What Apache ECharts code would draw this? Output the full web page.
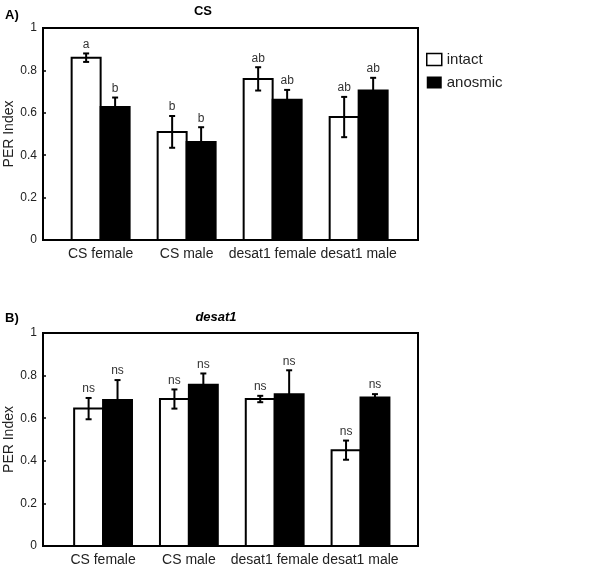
<!DOCTYPE html>
<html>
<head>
<meta charset="utf-8">
<script src="https://cdn.jsdelivr.net/npm/echarts@6/dist/echarts.min.js"></script>
<style>
  html, body { margin: 0; padding: 0; background: #fff; }
  #main { width: 592px; height: 572px; }
</style>
</head>
<body>
<div id="main"></div>
<script>
// 数据
var categories = ['CS female', 'CS male', 'desat1 female', 'desat1 male'];
var yTicks = [0, 0.2, 0.4, 0.6, 0.8, 1];

// A) CS
var csIntact = [0.86, 0.51, 0.76, 0.58];
var csIntactErr = [0.02, 0.075, 0.055, 0.095];
var csIntactLetters = ['a', 'b', 'ab', 'ab'];
var csAnosmic = [0.627, 0.462, 0.662, 0.705];
var csAnosmicErr = [0.045, 0.07, 0.046, 0.06];
var csAnosmicLetters = ['b', 'b', 'ab', 'ab'];

// B) desat1
var desIntact = [0.645, 0.69, 0.69, 0.45];
var desIntactErr = [0.05, 0.045, 0.015, 0.045];
var desIntactLetters = ['ns', 'ns', 'ns', 'ns'];
var desAnosmic = [0.686, 0.757, 0.712, 0.697];
var desAnosmicErr = [0.093, 0.053, 0.113, 0.016];
var desAnosmicLetters = ['ns', 'ns', 'ns', 'ns'];

(function () {
  var myChart = echarts.init(document.getElementById('main'));
  var font = 'Liberation Sans, Arial, sans-serif';
  var barUnit = 0.337; // 柱宽（x轴单位）

  function toData(vals, errs) {
    return categories.map(function (c, i) { return [i, vals[i], errs[i]]; });
  }

  // 柱子 + 误差线 + 字母标注
  function renderBars(offset, fill, letters) {
    return function (params, api) {
      var i = api.value(0), v = api.value(1), e = api.value(2);
      var w = api.size([barUnit, 0])[0];
      var base = api.coord([i + offset, 0]);
      var top = api.coord([i + offset, v]);
      var hi = api.coord([i + offset, v + e]);
      var lo = api.coord([i + offset, v - e]);
      var x = base[0];
      var ls = { stroke: '#000', lineWidth: 2 };
      return {
        type: 'group',
        children: [
          { type: 'rect', shape: { x: x - w / 2, y: top[1], width: w, height: base[1] - top[1] },
            style: { fill: fill, stroke: '#000', lineWidth: 2 } },
          { type: 'line', shape: { x1: x, y1: lo[1], x2: x, y2: hi[1] }, style: ls },
          { type: 'line', shape: { x1: x - 3, y1: hi[1], x2: x + 3, y2: hi[1] }, style: ls },
          { type: 'line', shape: { x1: x - 3, y1: lo[1], x2: x + 3, y2: lo[1] }, style: ls },
          { type: 'text', x: x, y: hi[1] - 3,
            style: { text: letters[params.dataIndex], fill: '#333', font: '12px ' + font,
                     textAlign: 'center', textVerticalAlign: 'bottom' } }
        ]
      };
    };
  }

  function xAxisFor(gridIndex, min, max) {
    return {
      type: 'value', gridIndex: gridIndex, min: min, max: max,
      axisLine: { show: false, onZero: false },
      axisTick: { show: false },
      splitLine: { show: false },
      axisLabel: {
        customValues: [0, 1, 2, 3],
        formatter: function (v) { return categories[Math.round(v)]; },
        color: '#222', fontSize: 14, fontFamily: font, margin: 7
      }
    };
  }

  function yAxisFor(gridIndex) {
    return {
      type: 'value', gridIndex: gridIndex, min: yTicks[0], max: yTicks[yTicks.length - 1], interval: 0.2,
      name: 'PER Index', nameLocation: 'middle', nameGap: 27, nameMoveOverlap: false,
      nameTextStyle: { color: '#222', fontSize: 14, fontFamily: font },
      axisLine: { show: false, onZero: false },
      axisTick: { show: true, inside: true, length: 3, lineStyle: { color: '#000', width: 1.5 } },
      splitLine: { show: false },
      axisLabel: { color: '#222', fontSize: 12, fontFamily: font, margin: 6 }
    };
  }

  function series(name, axisIdx, vals, errs, offset, fill, letters) {
    return {
      name: name, type: 'custom', xAxisIndex: axisIdx, yAxisIndex: axisIdx,
      itemStyle: { color: fill },
      renderItem: renderBars(offset, fill, letters),
      data: toData(vals, errs)
    };
  }

  var titleStyle = { fontSize: 13, fontWeight: 'bold', color: '#000', fontFamily: font };

  var option = {
    animation: false,
    backgroundColor: '#fff',
    title: [
      { text: 'A)', left: 5, top: 9, padding: 0, textStyle: titleStyle },
      { text: 'CS', left: 203, top: 5, padding: 0, textAlign: 'center', textStyle: titleStyle },
      { text: 'B)', left: 5, top: 312, padding: 0, textStyle: titleStyle },
      { text: 'desat1', left: 216, top: 311, padding: 0, textAlign: 'center',
        textStyle: Object.assign({}, titleStyle, { fontStyle: 'italic' }) }
    ],
    legend: {
      orient: 'vertical', left: 426, top: 52, padding: 0, itemWidth: 15, itemHeight: 12, itemGap: 8,
      selectedMode: false,
      textStyle: { fontSize: 15, color: '#222', fontFamily: font },
      data: [
        { name: 'intact', icon: 'rect', itemStyle: { color: '#fff', borderColor: '#000', borderWidth: 1.5 } },
        { name: 'anosmic', icon: 'rect', itemStyle: { color: '#000' } }
      ]
    },
    grid: [
      { left: 43, top: 28, width: 375, height: 212, outerBoundsMode: 'none',
        show: true, borderColor: '#000', borderWidth: 2 },
      { left: 43, top: 333, width: 375, height: 213, outerBoundsMode: 'none',
        show: true, borderColor: '#000', borderWidth: 2 }
    ],
    xAxis: [xAxisFor(0, -0.67, 3.69), xAxisFor(1, -0.70, 3.67)],
    yAxis: [yAxisFor(0), yAxisFor(1)],
    series: [
      series('intact', 0, csIntact, csIntactErr, -barUnit / 2, '#fff', csIntactLetters),
      series('anosmic', 0, csAnosmic, csAnosmicErr, barUnit / 2, '#000', csAnosmicLetters),
      series('intact', 1, desIntact, desIntactErr, -barUnit / 2, '#fff', desIntactLetters),
      series('anosmic', 1, desAnosmic, desAnosmicErr, barUnit / 2, '#000', desAnosmicLetters)
    ]
  };
  myChart.setOption(option);
})();
</script>
</body>
</html>
